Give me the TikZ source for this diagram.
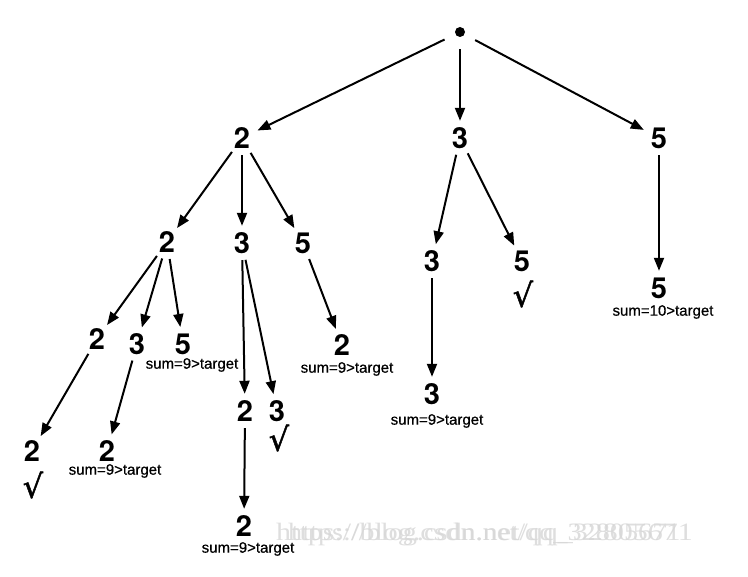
\documentclass[tikz,border=0pt]{standalone}
\usepackage{fontspec}
\setmainfont{TeX Gyre Heros}
\newfontfamily\labfont[FakeBold=0.6]{Liberation Sans}
\newfontfamily\chkfont[FakeBold=1.5]{DejaVu Sans}
\newfontfamily\wmfont{Liberation Serif}
\usetikzlibrary{arrows.meta}
\begin{document}
\begin{tikzpicture}[x=1pt,y=-1pt,
  num/.style={circle,inner sep=0pt,minimum size=34pt,font=\bfseries\fontsize{29}{29}\selectfont},
  sumlab/.style={inner sep=0pt,font=\labfont\fontsize{15}{15}\selectfont},
  chk/.style={inner sep=0pt,font=\chkfont\fontsize{32}{32}\selectfont},
  edge/.style={line width=2pt,-{Triangle[length=13pt,width=10pt]}},
  wm/.style={inner sep=0pt,anchor=west,text=black!16,opacity=0.8,font=\wmfont\fontsize{25}{25}\selectfont}]
\useasboundingbox (0,0) rectangle (748,577);
% nodes
\node[circle,inner sep=0pt,minimum size=34pt] (root) at (460,32) {};
\fill (root.center) circle (5);
\node[num] (a) at (242,138) {2};
\node[num] (b) at (460,138) {3};
\node[num] (c) at (659,138) {5};
\node[num] (a1) at (167,242) {2};
\node[num] (a2) at (242,243) {3};
\node[num] (a3) at (303,243) {5};
\node[num] (b1) at (432,261) {3};
\node[num] (b2) at (522,261) {5};
\node[chk] (b2c) at (523,294) {√};
\node[num] (c1) at (659,288) {5};
\node[sumlab] (c1s) at (663,312) {sum=10>target};
\node[num] (a11) at (97,339) {2};
\node[num] (a12) at (137,344) {3};
\node[num] (a13) at (183,344) {5};
\node[sumlab] (a13s) at (192,365) {sum=9>target};
\node[num] (a21) at (245,411) {2};
\node[num] (a22) at (277,411) {3};
\node[chk] (a22c) at (279,438) {√};
\node[num] (a31) at (342,345) {2};
\node[sumlab] (a31s) at (347,369) {sum=9>target};
\node[num] (b11) at (432,394) {3};
\node[sumlab] (b11s) at (437,421) {sum=9>target};
\node[num] (a111) at (32,451) {2};
\node[chk] (a111c) at (33,485) {√};
\node[num] (a121) at (107,451) {2};
\node[sumlab] (a121s) at (115,471) {sum=9>target};
\node[num] (a211) at (244,526) {2};
\node[sumlab] (a211s) at (248,549) {sum=9>target};
% watermark
\node[wm,xscale=1.2] (wm1) at (276,535) {https://blog.csdn.net/qq\_32805671};
\node[wm,xscale=1.13] (wm2) at (288,535) {https://blog.csdn.net/qq\_32805671};
% edges
\draw[edge] (root) -- (a);
\draw[edge] (root) -- (b);
\draw[edge] (root) -- (c);
\draw[edge] (a) -- (a1);
\draw[edge] (a) -- (a2);
\draw[edge] (a) -- (a3);
\draw[edge] (b) -- (b1);
\draw[edge] (b) -- (b2);
\draw[edge] (c) -- (c1);
\draw[edge] (a1) -- (a11);
\draw[edge] (a1) -- (a12);
\draw[edge] (a1) -- (a13);
\draw[edge] (a2) -- (a21);
\draw[edge] (a2) -- (a22);
\draw[edge] (a3) -- (a31);
\draw[edge] (b1) -- (b11);
\draw[edge] (a11) -- (a111);
\draw[edge] (a12) -- (a121);
\draw[edge] (a21) -- (a211);
\end{tikzpicture}
\end{document}
